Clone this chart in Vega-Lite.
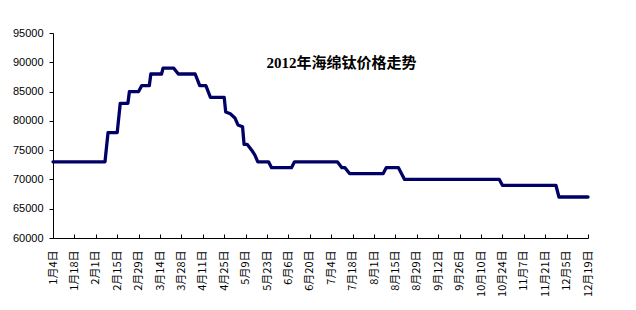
{
  "$schema": "https://vega.github.io/schema/vega-lite/v6.json",
  "width": 535,
  "height": 205,
  "autosize": "none",
  "padding": {"left": 53, "top": 33, "right": 48, "bottom": 72},
  "background": "white",
  "config": {"view": {"stroke": null}},
  "title": {
    "text": "2012年海绵钛价格走势",
    "anchor": "middle",
    "frame": "group",
    "offset": -44,
    "dx": 21,
    "fontSize": 15,
    "font": "Liberation Serif, Noto Sans CJK SC",
    "fontWeight": "bold",
    "color": "black"
  },
  "data": {
    "values": [
      {"date": "2012-01-04", "price": 73000},
      {"date": "2012-02-07", "price": 73000},
      {"date": "2012-02-09", "price": 78000},
      {"date": "2012-02-15", "price": 78000},
      {"date": "2012-02-17", "price": 83000},
      {"date": "2012-02-22", "price": 83000},
      {"date": "2012-02-23", "price": 85000},
      {"date": "2012-02-29", "price": 85000},
      {"date": "2012-03-02", "price": 86000},
      {"date": "2012-03-07", "price": 86000},
      {"date": "2012-03-08", "price": 88000},
      {"date": "2012-03-15", "price": 88000},
      {"date": "2012-03-16", "price": 89000},
      {"date": "2012-03-23", "price": 89000},
      {"date": "2012-03-26", "price": 88000},
      {"date": "2012-04-06", "price": 88000},
      {"date": "2012-04-09", "price": 86000},
      {"date": "2012-04-13", "price": 86000},
      {"date": "2012-04-16", "price": 84000},
      {"date": "2012-04-25", "price": 84000},
      {"date": "2012-04-26", "price": 81500},
      {"date": "2012-04-29", "price": 81200},
      {"date": "2012-05-02", "price": 80500},
      {"date": "2012-05-04", "price": 79300},
      {"date": "2012-05-07", "price": 79000},
      {"date": "2012-05-08", "price": 76000},
      {"date": "2012-05-10", "price": 76000},
      {"date": "2012-05-13", "price": 75000},
      {"date": "2012-05-15", "price": 74200},
      {"date": "2012-05-17", "price": 73000},
      {"date": "2012-05-24", "price": 73000},
      {"date": "2012-05-26", "price": 72000},
      {"date": "2012-06-08", "price": 72000},
      {"date": "2012-06-10", "price": 73000},
      {"date": "2012-07-08", "price": 73000},
      {"date": "2012-07-11", "price": 72000},
      {"date": "2012-07-13", "price": 72000},
      {"date": "2012-07-16", "price": 71000},
      {"date": "2012-08-07", "price": 71000},
      {"date": "2012-08-09", "price": 72000},
      {"date": "2012-08-17", "price": 72000},
      {"date": "2012-08-21", "price": 70000},
      {"date": "2012-10-22", "price": 70000},
      {"date": "2012-10-24", "price": 69000},
      {"date": "2012-11-28", "price": 69000},
      {"date": "2012-11-30", "price": 67000},
      {"date": "2012-12-19", "price": 67000}
    ],
    "format": {"parse": {"date": "utc:'%Y-%m-%d'"}}
  },
  "mark": {"type": "line", "color": "#000066", "strokeWidth": 3.3, "strokeJoin": "round", "strokeCap": "round"},
  "encoding": {
    "x": {
      "field": "date",
      "type": "temporal",
      "scale": {
        "type": "utc",
        "domain": [
          {"year": 2012, "month": 1, "date": 4, "utc": true},
          {"year": 2012, "month": 12, "date": 19, "utc": true}
        ]
      },
      "axis": {
        "title": null,
        "grid": false,
        "labelExpr": "utcFormat(datum.value, '%-m月%-d日')",
        "values": [
          {"year": 2012, "month": 1, "date": 4, "utc": true},
          {"year": 2012, "month": 1, "date": 18, "utc": true},
          {"year": 2012, "month": 2, "date": 1, "utc": true},
          {"year": 2012, "month": 2, "date": 15, "utc": true},
          {"year": 2012, "month": 2, "date": 29, "utc": true},
          {"year": 2012, "month": 3, "date": 14, "utc": true},
          {"year": 2012, "month": 3, "date": 28, "utc": true},
          {"year": 2012, "month": 4, "date": 11, "utc": true},
          {"year": 2012, "month": 4, "date": 25, "utc": true},
          {"year": 2012, "month": 5, "date": 9, "utc": true},
          {"year": 2012, "month": 5, "date": 23, "utc": true},
          {"year": 2012, "month": 6, "date": 6, "utc": true},
          {"year": 2012, "month": 6, "date": 20, "utc": true},
          {"year": 2012, "month": 7, "date": 4, "utc": true},
          {"year": 2012, "month": 7, "date": 18, "utc": true},
          {"year": 2012, "month": 8, "date": 1, "utc": true},
          {"year": 2012, "month": 8, "date": 15, "utc": true},
          {"year": 2012, "month": 8, "date": 29, "utc": true},
          {"year": 2012, "month": 9, "date": 12, "utc": true},
          {"year": 2012, "month": 9, "date": 26, "utc": true},
          {"year": 2012, "month": 10, "date": 10, "utc": true},
          {"year": 2012, "month": 10, "date": 24, "utc": true},
          {"year": 2012, "month": 11, "date": 7, "utc": true},
          {"year": 2012, "month": 11, "date": 21, "utc": true},
          {"year": 2012, "month": 12, "date": 5, "utc": true},
          {"year": 2012, "month": 12, "date": 19, "utc": true}
        ],
        "labelAngle": 270,
        "labelFont": "Noto Sans CJK SC",
        "labelFontSize": 11,
        "labelColor": "black",
        "labelPadding": 16,
        "labelOverlap": false,
        "labelBound": false,
        "labelFlush": false,
        "tickSize": -4,
        "tickColor": "black",
        "domainColor": "black"
      }
    },
    "y": {
      "field": "price",
      "type": "quantitative",
      "scale": {"domain": [60000, 95000], "nice": false, "zero": false},
      "axis": {
        "title": null,
        "grid": false,
        "values": [60000, 65000, 70000, 75000, 80000, 85000, 90000, 95000],
        "format": "d",
        "labelFont": "Liberation Sans",
        "labelFontSize": 11,
        "labelColor": "black",
        "labelPadding": 6,
        "tickSize": 4,
        "tickColor": "black",
        "domainColor": "black"
      }
    }
  }
}
